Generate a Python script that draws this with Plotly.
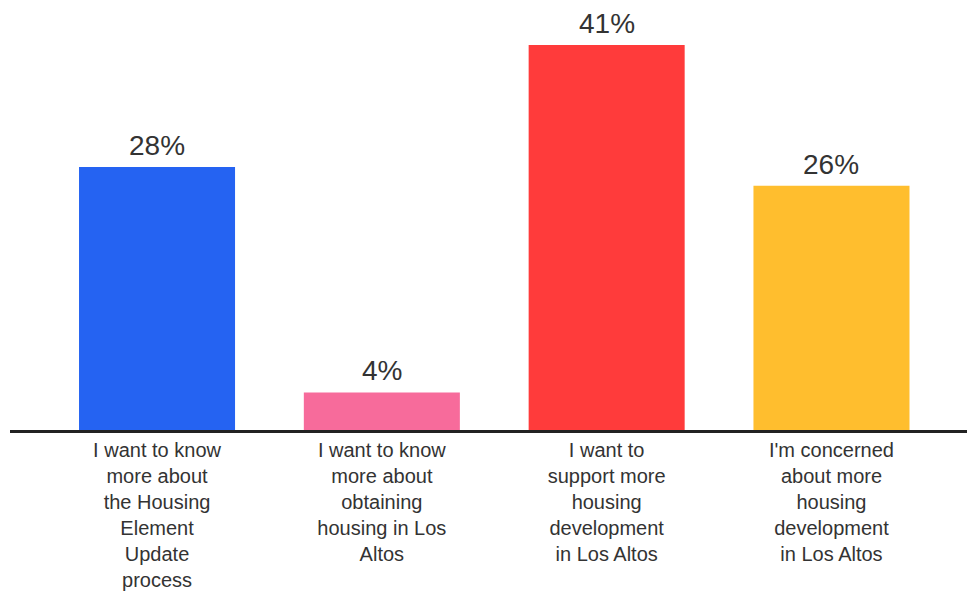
import plotly.graph_objects as go

categories = [
    "I want to know<br>more about<br>the Housing<br>Element<br>Update<br>process",
    "I want to know<br>more about<br>obtaining<br>housing in Los<br>Altos",
    "I want to<br>support more<br>housing<br>development<br>in Los Altos",
    "I'm concerned<br>about more<br>housing<br>development<br>in Los Altos",
]
values = [28, 4, 41, 26]
value_labels = ["28%", "4%", "41%", "26%"]
colors = ["#2563F2", "#F76B9B", "#FF3B3B", "#FFBE2E"]

FONT = "Liberation Sans, Arial, sans-serif"

fig = go.Figure(go.Bar(
    x=categories,
    y=values,
    marker=dict(color=colors, line=dict(width=0)),
    width=0.694,
))

for cat, val, lab in zip(categories, values, value_labels):
    fig.add_annotation(
        x=cat, y=val, xref="x", yref="y",
        text=lab, showarrow=False,
        yanchor="bottom", yshift=4,
        font=dict(size=28, color="#333333", family=FONT),
    )

fig.update_layout(
    width=975, height=595,
    margin=dict(l=2, r=0, t=12, b=173),
    paper_bgcolor="white", plot_bgcolor="white",
    showlegend=False,
    font=dict(family=FONT, color="#333333"),
)
fig.update_xaxes(
    range=[-0.654, 3.674],
    showline=True, linecolor="#222222", linewidth=3,
    showgrid=False, ticks="",
    tickfont=dict(size=20, color="#333333"),
    tickangle=0,
)
fig.update_yaxes(
    range=[0, 43.66],
    visible=False, showgrid=False, zeroline=False,
)

fig.write_html("out.html")
